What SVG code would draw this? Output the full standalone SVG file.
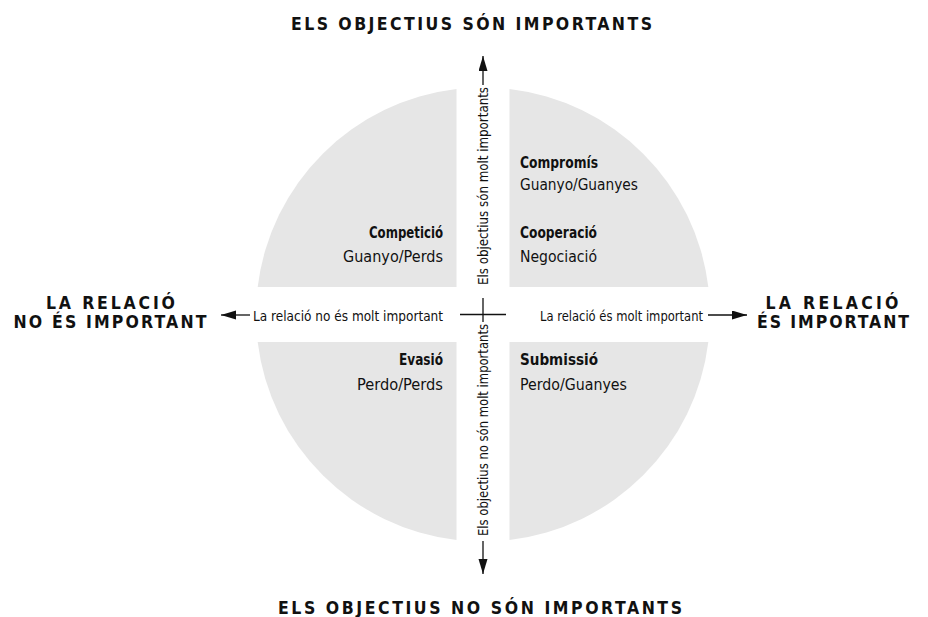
<svg xmlns="http://www.w3.org/2000/svg" width="928" height="617" viewBox="0 0 928 617">
<style>
.q{fill:#e6e6e6}
.title{font-family:"DejaVu Sans Condensed","DejaVu Sans",sans-serif;font-weight:bold;font-size:17.5px;fill:#111}
.lbl{font-family:"DejaVu Sans Condensed","DejaVu Sans",sans-serif;font-size:16.5px;fill:#111}
.b{font-weight:bold}
.ax{font-family:"DejaVu Sans Condensed","DejaVu Sans",sans-serif;font-size:14.5px;fill:#111}
.ln{stroke:#111;stroke-width:1.3;fill:none}
</style>
<defs>
<marker id="ah" markerUnits="userSpaceOnUse" markerWidth="16" markerHeight="10" refX="15" refY="4.5" orient="auto">
<path d="M0,0 L15,4.5 L0,9 z" fill="#111"/>
</marker>
</defs>
<rect width="928" height="617" fill="#fff"/>
<g id="quadrant-competicio">
<path class="q" d="M456.5,287 V89.05 A227,227 0 0 0 257.67,287 Z"/>
<text class="lbl b" x="443" y="238" text-anchor="end" textLength="74" lengthAdjust="spacingAndGlyphs">Competició</text>
<text class="lbl" x="443" y="262" text-anchor="end" textLength="100" lengthAdjust="spacingAndGlyphs">Guanyo/Perds</text>
</g>
<g id="quadrant-compromis">
<path class="q" d="M509.5,287 V89.05 A227,227 0 0 1 708.33,287 Z"/>
<text class="lbl b" x="520" y="168" textLength="78" lengthAdjust="spacingAndGlyphs">Compromís</text>
<text class="lbl" x="520" y="190" textLength="118" lengthAdjust="spacingAndGlyphs">Guanyo/Guanyes</text>
<text class="lbl b" x="520" y="238" textLength="77" lengthAdjust="spacingAndGlyphs">Cooperació</text>
<text class="lbl" x="520" y="262" textLength="77" lengthAdjust="spacingAndGlyphs">Negociació</text>
</g>
<g id="quadrant-evasio">
<path class="q" d="M456.5,342 H257.67 A227,227 0 0 0 456.5,539.95 Z"/>
<text class="lbl b" x="443" y="365" text-anchor="end" textLength="44" lengthAdjust="spacingAndGlyphs">Evasió</text>
<text class="lbl" x="443" y="390" text-anchor="end" textLength="86" lengthAdjust="spacingAndGlyphs">Perdo/Perds</text>
</g>
<g id="quadrant-submissio">
<path class="q" d="M509.5,342 H708.33 A227,227 0 0 1 509.5,539.95 Z"/>
<text class="lbl b" x="520" y="365" textLength="78" lengthAdjust="spacingAndGlyphs">Submissió</text>
<text class="lbl" x="520" y="390" textLength="107" lengthAdjust="spacingAndGlyphs">Perdo/Guanyes</text>
</g>
<g id="connectors">
<line class="ln" x1="483" y1="85" x2="483" y2="56" marker-end="url(#ah)"/>
<line class="ln" x1="483" y1="541" x2="483" y2="574" marker-end="url(#ah)"/>
<line class="ln" x1="250" y1="315" x2="221" y2="315" marker-end="url(#ah)"/>
<line class="ln" x1="708" y1="315" x2="747" y2="315" marker-end="url(#ah)"/>
<line class="ln" x1="460" y1="314.5" x2="506" y2="314.5"/>
<line class="ln" x1="483" y1="298" x2="483" y2="322"/>
</g>
<g id="axis-labels">
<text class="ax" transform="translate(488,285) rotate(-90)" textLength="198" lengthAdjust="spacingAndGlyphs">Els objectius són molt importants</text>
<text class="ax" transform="translate(488,536) rotate(-90)" textLength="212" lengthAdjust="spacingAndGlyphs">Els objectius no són molt importants</text>
<text class="ax" x="253" y="320.5" textLength="190" lengthAdjust="spacingAndGlyphs">La relació no és molt important</text>
<text class="ax" x="540" y="320.5" textLength="163" lengthAdjust="spacingAndGlyphs">La relació és molt important</text>
</g>
<g id="title-top">
<text class="title" x="471.5" y="30" text-anchor="middle" textLength="361" lengthAdjust="spacing">ELS OBJECTIUS SÓN IMPORTANTS</text>
</g>
<g id="title-bottom">
<text class="title" x="480" y="614" text-anchor="middle" textLength="404" lengthAdjust="spacing">ELS OBJECTIUS NO SÓN IMPORTANTS</text>
</g>
<g id="title-left">
<text class="title" x="110.5" y="309" text-anchor="middle" textLength="129" lengthAdjust="spacing">LA RELACIÓ</text>
<text class="title" x="110" y="328" text-anchor="middle" textLength="193" lengthAdjust="spacing">NO ÉS IMPORTANT</text>
</g>
<g id="title-right">
<text class="title" x="832" y="309" text-anchor="middle" textLength="133" lengthAdjust="spacing">LA RELACIÓ</text>
<text class="title" x="833" y="328" text-anchor="middle" textLength="152" lengthAdjust="spacing">ÉS IMPORTANT</text>
</g>
</svg>
